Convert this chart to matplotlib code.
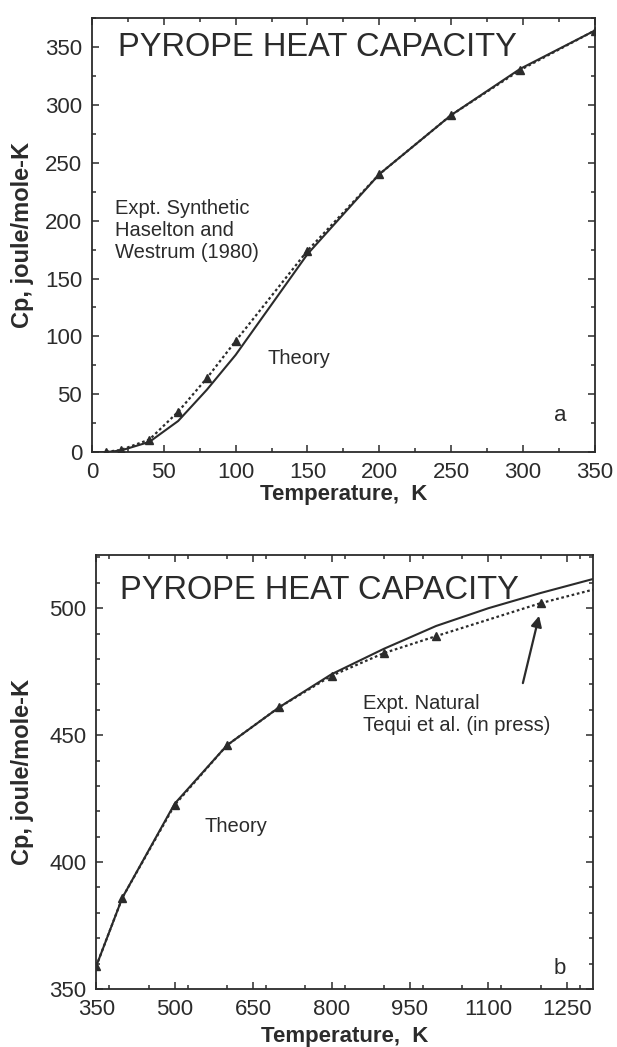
import matplotlib
matplotlib.use("Agg")
import matplotlib.pyplot as plt
from matplotlib.ticker import MultipleLocator

plt.rcParams['font.family'] = ['Liberation Sans', 'DejaVu Sans']

# ---- Panel a data (low temperature) ----
a_theory_T = [0, 10, 20, 40, 60, 80, 100, 150, 200, 250, 298.15, 350]
a_theory_Cp = [0, 0.2, 1.5, 9, 27, 54, 84, 171, 240, 291, 331, 364]
a_expt_T = [10, 20, 40, 60, 80, 100, 150, 200, 250, 298.15, 350]
a_expt_Cp = [0.4, 2, 11, 35, 64, 96, 174, 240, 291, 330, 364]

# ---- Panel b data (high temperature) ----
b_theory_T = [350, 400, 500, 600, 700, 800, 900, 1000, 1100, 1200, 1300]
b_theory_Cp = [359, 386, 423, 446, 461, 474, 484, 493, 500, 506, 511.5]
b_expt_T = [350, 400, 500, 600, 700, 800, 900, 1000, 1200]
b_expt_Cp = [359, 386, 422.5, 446, 461, 473.4, 482.3, 489, 502]
b_expt_ext_T = [1200, 1300]
b_expt_ext_Cp = [502, 507.3]

a_xticks = [0, 50, 100, 150, 200, 250, 300, 350]
a_yticks = [0, 50, 100, 150, 200, 250, 300, 350]
b_xticks = [350, 500, 650, 800, 950, 1100, 1250]
b_yticks = [350, 400, 450, 500]

ink = '#2b2b2b'
fig = plt.figure(figsize=(6.17, 10.47), dpi=100)

ax1 = fig.add_axes([0.149, 0.568, 0.815, 0.415])
ax2 = fig.add_axes([0.156, 0.0554, 0.805, 0.4146])


def style(ax):
    for s in ax.spines.values():
        s.set_linewidth(1.3)
        s.set_color(ink)
    ax.tick_params(which='both', direction='in', top=True, right=True,
                   colors=ink, labelsize=16, width=1.1)
    ax.tick_params(which='major', length=5)
    ax.tick_params(which='minor', length=3)
    ax.tick_params(axis='x', pad=7)
    ax.tick_params(axis='y', pad=7)


xlab_kw = dict(fontsize=16, fontweight='bold', color=ink)
ylab_kw = dict(fontsize=17, fontweight='bold', color=ink)

# Panel a
ax1.plot(a_theory_T, a_theory_Cp, color=ink, lw=1.5, ls='-')
ax1.plot(a_expt_T, a_expt_Cp, color=ink, lw=1.6, ls=(0, (1.2, 1.2)),
         marker='^', ms=6, mfc=ink, mec=ink)
ax1.set_xlim(0, 350)
ax1.set_ylim(0, 375)
ax1.set_xticks(a_xticks)
ax1.set_yticks(a_yticks)
ax1.xaxis.set_minor_locator(MultipleLocator(25))
ax1.yaxis.set_minor_locator(MultipleLocator(25))
style(ax1)
ax1.set_xlabel('Temperature,  K', **xlab_kw)
ax1.set_ylabel('Cp, joule/mole-K', **ylab_kw)
ax1.xaxis.set_label_coords(0.5, -0.097)
ax1.yaxis.set_label_coords(-0.139, 0.5)
ax1.xaxis.label.set_va('center')
ax1.yaxis.label.set_va('center')
ax1.text(18, 349, 'PYROPE HEAT CAPACITY', fontsize=23.5, color=ink, ha='left', va='center')
ax1.text(16, 191, 'Expt. Synthetic\nHaselton and\nWestrum (1980)', fontsize=14.5,
         color=ink, ha='left', va='center', linespacing=1.2)
ax1.text(122, 81, 'Theory', fontsize=14.5, color=ink, ha='left', va='center')
ax1.text(326, 32, 'a', fontsize=16, color=ink, ha='center', va='center')

# Panel b
ax2.plot(b_theory_T, b_theory_Cp, color=ink, lw=1.5, ls='-')
ax2.plot(b_expt_T, b_expt_Cp, color=ink, lw=1.6, ls=(0, (1.2, 1.2)),
         marker='^', ms=6, mfc=ink, mec=ink)
ax2.plot(b_expt_ext_T, b_expt_ext_Cp, color=ink, lw=1.6, ls=(0, (1.2, 1.2)))
ax2.set_xlim(350, 1300)
ax2.set_ylim(350, 521)
ax2.set_xticks(b_xticks)
ax2.set_yticks(b_yticks)
ax2.xaxis.set_minor_locator(MultipleLocator(75))
ax2.yaxis.set_minor_locator(MultipleLocator(10))
style(ax2)
ax2.set_xlabel('Temperature,  K', **xlab_kw)
ax2.set_ylabel('Cp, joule/mole-K', **ylab_kw)
ax2.xaxis.set_label_coords(0.5, -0.11)
ax2.yaxis.set_label_coords(-0.149, 0.5)
ax2.xaxis.label.set_va('center')
ax2.yaxis.label.set_va('center')
ax2.text(396, 507, 'PYROPE HEAT CAPACITY', fontsize=23.5, color=ink, ha='left', va='center')
ax2.text(860, 458, 'Expt. Natural\nTequi et al. (in press)', fontsize=14.5,
         color=ink, ha='left', va='center', linespacing=1.2)
ax2.text(558, 414, 'Theory', fontsize=14.5, color=ink, ha='left', va='center')
ax2.text(1237, 358, 'b', fontsize=16, color=ink, ha='center', va='center')
ax2.annotate('', xy=(1197, 497), xytext=(1166, 470.5),
             arrowprops=dict(arrowstyle='-|>', color=ink, lw=1.6,
                             mutation_scale=16, shrinkA=0, shrinkB=0))

fig.savefig('out.png', dpi=100)
